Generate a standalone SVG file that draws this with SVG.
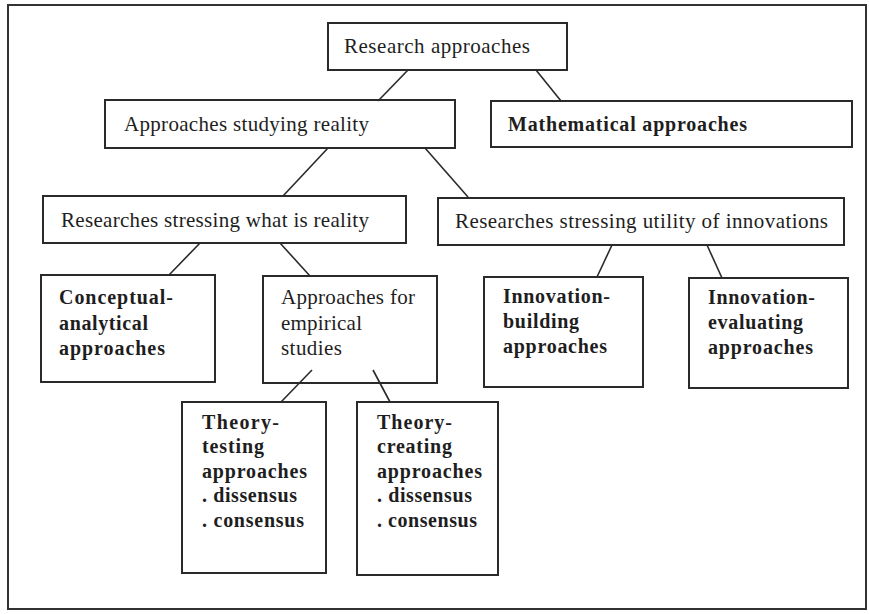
<svg xmlns="http://www.w3.org/2000/svg" width="869" height="614" viewBox="0 0 869 614">
  <style>
    .box { fill: #fff; stroke: #2a2a2a; stroke-width: 2; }
    .frame { fill: #fff; stroke: #333; stroke-width: 2; }
    .link { stroke: #2a2a2a; stroke-width: 1.6; fill: none; }
    .t { font-family: "Liberation Serif", "Times New Roman", serif; font-size: 21px; fill: #1e1e1e; }
    .b { font-family: "Liberation Serif", "Times New Roman", serif; font-size: 20px; font-weight: bold; fill: #1e1e1e; }
  </style>

  <rect class="frame" x="8" y="5" width="858" height="604"/>

  <g id="research-approaches">
    <rect class="box" x="328" y="23" width="239" height="47"/>
    <text class="t" x="344" y="53" textLength="186">Research approaches</text>
  </g>

  <g id="approaches-studying-reality">
    <rect class="box" x="105" y="100" width="350" height="48"/>
    <text class="t" x="124" y="131" textLength="245">Approaches studying reality</text>
  </g>

  <g id="mathematical-approaches">
    <rect class="box" x="491" y="101" width="361" height="46"/>
    <text class="b" x="508" y="131" textLength="239">Mathematical approaches</text>
  </g>

  <g id="stressing-reality">
    <rect class="box" x="43" y="196" width="363" height="47"/>
    <text class="t" x="61" y="227" textLength="308">Researches stressing what is reality</text>
  </g>

  <g id="stressing-utility">
    <rect class="box" x="438" y="198" width="406" height="47"/>
    <text class="t" x="455" y="228" textLength="373">Researches stressing utility of innovations</text>
  </g>

  <g id="conceptual-analytical">
    <rect class="box" x="41" y="275" width="174" height="107"/>
    <text class="b" x="59" y="304" textLength="114">Conceptual-</text>
    <text class="b" x="59" y="330" textLength="89">analytical</text>
    <text class="b" x="59" y="355" textLength="106">approaches</text>
  </g>

  <g id="empirical-studies">
    <rect class="box" x="263" y="276" width="174" height="107"/>
    <text class="t" x="281" y="304" textLength="134">Approaches for</text>
    <text class="t" x="281" y="330" textLength="81">empirical</text>
    <text class="t" x="281" y="355" textLength="61">studies</text>
  </g>

  <g id="innovation-building">
    <rect class="box" x="484" y="277" width="159" height="110"/>
    <text class="b" x="503" y="303" textLength="107">Innovation-</text>
    <text class="b" x="503" y="328" textLength="76">building</text>
    <text class="b" x="503" y="353" textLength="104">approaches</text>
  </g>

  <g id="innovation-evaluating">
    <rect class="box" x="689" y="278" width="159" height="110"/>
    <text class="b" x="708" y="304" textLength="107">Innovation-</text>
    <text class="b" x="708" y="329" textLength="95">evaluating</text>
    <text class="b" x="708" y="354" textLength="105">approaches</text>
  </g>

  <g id="theory-testing">
    <rect class="box" x="182" y="402" width="144" height="171"/>
    <text class="b" x="202" y="429" textLength="77">Theory-</text>
    <text class="b" x="202" y="453" textLength="62">testing</text>
    <text class="b" x="202" y="478" textLength="105">approaches</text>
    <text class="b" x="202" y="502" textLength="95">. dissensus</text>
    <text class="b" x="202" y="527" textLength="102">. consensus</text>
  </g>

  <g id="theory-creating">
    <rect class="box" x="357" y="402" width="141" height="173"/>
    <text class="b" x="377" y="429" textLength="75">Theory-</text>
    <text class="b" x="377" y="453" textLength="75">creating</text>
    <text class="b" x="377" y="478" textLength="105">approaches</text>
    <text class="b" x="377" y="502" textLength="95">. dissensus</text>
    <text class="b" x="377" y="527" textLength="100">. consensus</text>
  </g>

  <!-- tree links, drawn over the boxes so the two lower ones show inside the empirical box -->
  <g id="connectors">
    <line class="link" x1="408" y1="70" x2="378" y2="101"/>
    <line class="link" x1="536" y1="70" x2="561" y2="101"/>
    <line class="link" x1="328" y1="148" x2="283" y2="196"/>
    <line class="link" x1="425" y1="148" x2="468" y2="197"/>
    <line class="link" x1="200" y1="243" x2="169" y2="275"/>
    <line class="link" x1="280" y1="243" x2="310" y2="276"/>
    <line class="link" x1="612" y1="245" x2="597" y2="277"/>
    <line class="link" x1="707" y1="245" x2="722" y2="278"/>
    <line class="link" x1="312" y1="370" x2="281" y2="402"/>
    <line class="link" x1="373" y1="370" x2="390" y2="402"/>
  </g>
</svg>
